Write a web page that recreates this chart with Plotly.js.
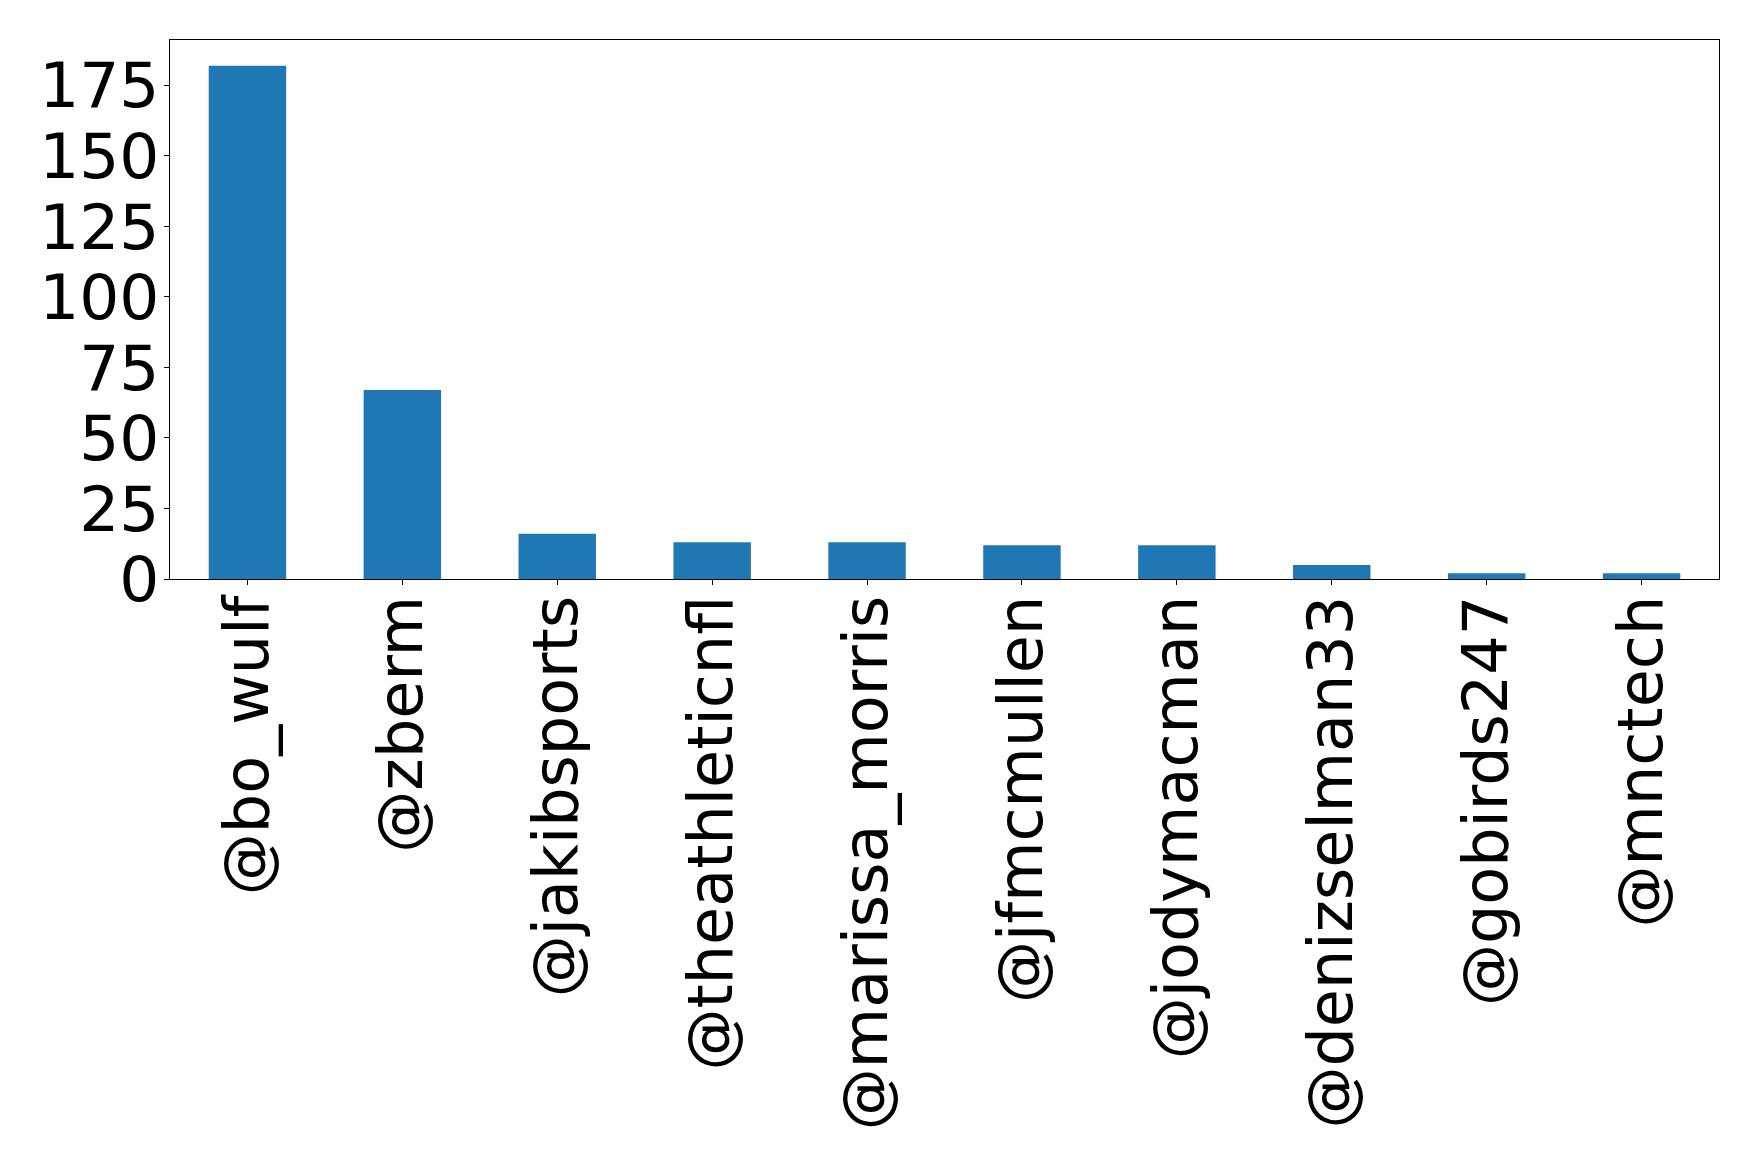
<!DOCTYPE html>
<html>
<head>
<meta charset="utf-8">
<script src="https://cdn.plot.ly/plotly-3.0.1.min.js"></script>
<style>html,body{margin:0;padding:0;background:#fff;}#chart{width:1758px;height:1167px;}</style>
</head>
<body>
<div id="chart"></div>
<script>
const categories = ["@bo_wulf","@zberm","@jakibsports","@theathleticnfl","@marissa_morris","@jfmcmullen","@jodymacman","@denizselman33","@gobirds247","@mnctech"];
const counts = [182, 67, 16, 13, 13, 12, 12, 5, 2, 2];
const yTicks = [0, 25, 50, 75, 100, 125, 150, 175];

const trace = {
  type: 'bar',
  x: categories,
  y: counts,
  width: 0.5,
  marker: {color: '#1f77b4', line: {width: 0}},
  hoverinfo: 'x+y'
};

const layout = {
  width: 1758,
  height: 1167,
  margin: {l: 170, r: 39, t: 40, b: 588, pad: 0},
  paper_bgcolor: '#ffffff',
  plot_bgcolor: '#ffffff',
  showlegend: false,
  font: {family: 'DejaVu Sans', color: '#000000', size: 62},
  xaxis: {
    type: 'category',
    range: [-0.5, 9.5],
    tickangle: -90,
    ticks: 'outside',
    ticklen: 5,
    tickwidth: 1,
    tickcolor: '#000',
    ticklabelstandoff: -14,
    showline: true,
    linecolor: '#000',
    linewidth: 1,
    mirror: true,
    showgrid: false,
    zeroline: false,
    tickfont: {family: 'DejaVu Sans', size: 62, color: '#000'},
    automargin: false
  },
  yaxis: {
    range: [0, 191.1],
    tickvals: yTicks,
    ticktext: yTicks.map(String),
    ticks: 'outside',
    ticklen: 5,
    tickwidth: 1,
    tickcolor: '#000',
    ticklabelstandoff: -8,
    showline: true,
    linecolor: '#000',
    linewidth: 1,
    mirror: true,
    showgrid: false,
    zeroline: false,
    tickfont: {family: 'DejaVu Sans', size: 63, color: '#000'},
    automargin: false
  }
};

Plotly.newPlot('chart', [trace], layout, {displayModeBar: false, staticPlot: true});
</script>
</body>
</html>
